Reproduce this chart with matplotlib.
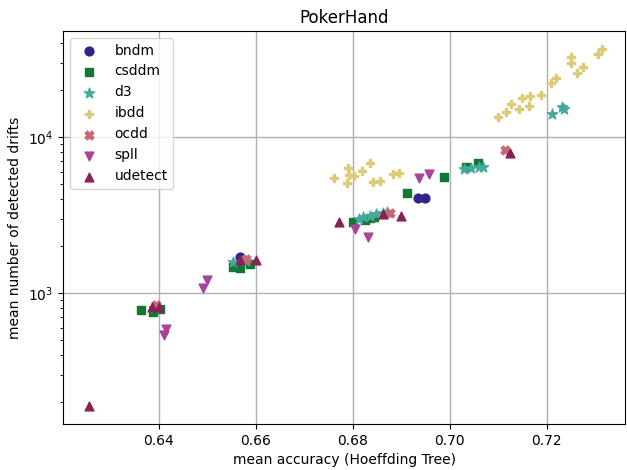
import matplotlib
matplotlib.use("Agg")
import matplotlib.pyplot as plt

names = ["bndm", "csddm", "d3", "ibdd", "ocdd", "spll", "udetect"]
colors = ["#332288", "#117733", "#44AA99", "#DDCC77", "#CC6677", "#AA4499", "#882255"]
markers = ["o", "s", "*", "P", "X", "v", "^"]

bndm_x = [0.6395, 0.6567, 0.6934, 0.6950]
bndm_y = [810, 1717, 4102, 4102]

csddm_x = [0.6364, 0.6389, 0.6403, 0.6554, 0.6567, 0.6588, 0.6801, 0.6825, 0.6835, 0.6845, 0.6912, 0.6989, 0.7033, 0.7059]
csddm_y = [782, 762, 793, 1482, 1450, 1540, 2877, 2951, 3028, 3097, 4375, 5585, 6490, 6871]

d3_x = [0.6390, 0.6554, 0.6580, 0.6814, 0.6821, 0.6835, 0.6849, 0.6862, 0.6872, 0.7030, 0.7044, 0.7061, 0.7068, 0.7211, 0.7231, 0.7236]
d3_y = [800, 1595, 1620, 2992, 3097, 3133, 3221, 3258, 3320, 6237, 6326, 6490, 6490, 14100, 15570, 15100]

ibdd_x = [0.6761, 0.6790, 0.6792, 0.6788, 0.6804, 0.6820, 0.6836, 0.6842, 0.6856, 0.6884, 0.6895,
          0.7099, 0.7116, 0.7127, 0.7144, 0.7150, 0.7166, 0.7164, 0.7188, 0.7209, 0.7220,
          0.7250, 0.7250, 0.7262, 0.7275, 0.7307, 0.7315]
ibdd_y = [5457, 6326, 5728, 5070, 5650, 6109, 6871, 5188, 5270, 5820, 5875,
          13430, 14590, 16330, 15110, 17780, 18410, 15870, 18660, 22170, 24100,
          32570, 30060, 25700, 28100, 34200, 36800]

ocdd_x = [0.6395, 0.6580, 0.6878, 0.7115]
ocdd_y = [841, 1652, 3289, 8299]

spll_x = [0.6415, 0.6412, 0.6500, 0.6491, 0.6806, 0.6831, 0.6938, 0.6957]
spll_y = [588, 541, 1217, 1086, 2572, 2286, 5457, 5820]

udetect_x = [0.6257, 0.6386, 0.6401, 0.6567, 0.6600, 0.6772, 0.6862, 0.6899, 0.7125]
udetect_y = [190, 820, 820, 1634, 1634, 2877, 3221, 3133, 7966]

data = {
    "bndm": (bndm_x, bndm_y),
    "csddm": (csddm_x, csddm_y),
    "d3": (d3_x, d3_y),
    "ibdd": (ibdd_x, ibdd_y),
    "ocdd": (ocdd_x, ocdd_y),
    "spll": (spll_x, spll_y),
    "udetect": (udetect_x, udetect_y),
}

fig = plt.figure(figsize=(6.27, 4.70), dpi=100)
ax = fig.add_axes([0.1005, 0.098, 0.8965, 0.836])
for name, c, m in zip(names, colors, markers):
    xs, ys = data[name]
    sz = 60 if m == "*" else 40
    ax.scatter(xs, ys, color=c, marker=m, s=sz, label=name, zorder=3,
               edgecolors=c, linewidths=1.0)

ax.set_yscale("log")
ax.set_xlim(0.6203, 0.7362)
ax.set_ylim(145, 48000)
ax.set_xticks([0.64, 0.66, 0.68, 0.70, 0.72])
ax.set_xticklabels(["0.64", "0.66", "0.68", "0.70", "0.72"])
ax.grid(True, which="major", color="#b0b0b0", linewidth=1.0)
ax.set_axisbelow(True)
ax.set_title("PokerHand")
ax.set_xlabel("mean accuracy (Hoeffding Tree)")
ax.set_ylabel("mean number of detected drifts")
ax.legend(loc="upper left")
fig.savefig("out.png", dpi=100)
